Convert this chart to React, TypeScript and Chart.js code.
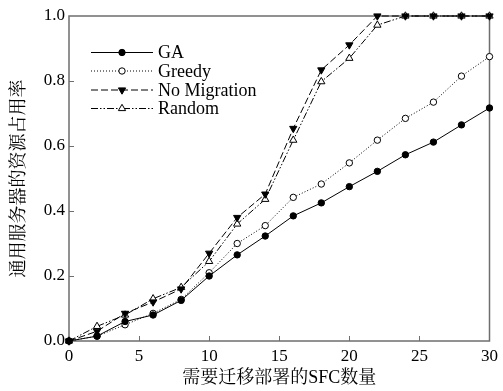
import React, { useEffect, useRef } from "react";
import { Chart, registerables } from "chart.js";

Chart.register(...registerables);

const xValues = [0, 2, 4, 6, 8, 10, 12, 14, 16, 18, 20, 22, 24, 26, 28, 30];
const gaValues = [0, 0.015, 0.06, 0.08, 0.125, 0.2, 0.265, 0.323, 0.385, 0.425, 0.475, 0.522, 0.573, 0.612, 0.665, 0.717];
const greedyValues = [0, 0.015, 0.05, 0.085, 0.128, 0.21, 0.3, 0.355, 0.442, 0.483, 0.548, 0.618, 0.685, 0.735, 0.815, 0.875];
const noMigrationValues = [0, 0.03, 0.085, 0.12, 0.16, 0.27, 0.38, 0.452, 0.654, 0.834, 0.911, 1.0, 1.0, 1.0, 1.0, 1.0];
const randomValues = [0, 0.045, 0.08, 0.13, 0.165, 0.245, 0.36, 0.436, 0.618, 0.798, 0.87, 0.972, 1.0, 1.0, 1.0, 1.0];

const seriesNames = ["GA", "Greedy", "No Migration", "Random"];
const xTicks = [0, 5, 10, 15, 20, 25, 30];
const yTicks = [0, 0.2, 0.4, 0.6, 0.8, 1.0];
const xTitle = "需要迁移部署的SFC数量";
const yTitle = "通用服务器的资源占用率";

const FONT = "'Liberation Serif', 'Times New Roman', 'Noto Serif CJK SC', 'Noto Sans CJK SC', serif";

const styles = [
  { dash: [] as number[], pointStyle: "circle", rotation: 0, fill: "#000", radius: 3.2 },
  { dash: [1, 2], pointStyle: "circle", rotation: 0, fill: "#fff", radius: 3.2 },
  { dash: [7, 3], pointStyle: "triangle", rotation: 180, fill: "#000", radius: 4.2 },
  { dash: [7, 2, 1.5, 2, 1.5, 2], pointStyle: "triangle", rotation: 0, fill: "#fff", radius: 4.2 },
];

const framePlugin = {
  id: "frame",
  beforeDatasetsDraw(chart: any) {
    const { ctx, chartArea } = chart;
    const { left, right, top, bottom } = chartArea;
    const xs = chart.scales.x;
    const ys = chart.scales.y;
    ctx.save();
    ctx.strokeStyle = "#6e6e6e";
    ctx.lineWidth = 1.5;
    ctx.strokeRect(left, top, right - left, bottom - top);
    ctx.lineWidth = 1;
    ctx.beginPath();
    xTicks.forEach((t) => {
      if (t === xTicks[0] || t === xTicks[xTicks.length - 1]) return;
      const px = Math.round(xs.getPixelForValue(t)) + 0.5;
      ctx.moveTo(px, bottom);
      ctx.lineTo(px, bottom - 5);
    });
    yTicks.forEach((t, i) => {
      if (i === 0 || i === yTicks.length - 1) return;
      const py = Math.round(ys.getPixelForValue(t)) + 0.5;
      ctx.moveTo(left, py);
      ctx.lineTo(left + 5, py);
    });
    ctx.stroke();
    ctx.restore();
  },
  afterDatasetsDraw(chart: any) {
    const { ctx } = chart;
    const rowsY = [52.5, 71, 90, 108.5];
    const x0 = 91;
    const x1 = 153;
    const xm = 122;
    ctx.save();
    seriesNames.forEach((name, i) => {
      const s = styles[i];
      const y = rowsY[i];
      ctx.strokeStyle = "#000";
      ctx.lineWidth = 1;
      ctx.setLineDash(s.dash);
      ctx.beginPath();
      ctx.moveTo(x0, y);
      ctx.lineTo(x1, y);
      ctx.stroke();
      ctx.setLineDash([]);
      ctx.fillStyle = s.fill;
      ctx.beginPath();
      if (s.pointStyle === "circle") {
        ctx.arc(xm, y, s.radius, 0, Math.PI * 2);
      } else {
        const r = s.radius;
        const dir = s.rotation === 180 ? -1 : 1;
        ctx.moveTo(xm, y - dir * r);
        ctx.lineTo(xm + r * 0.866, y + dir * r * 0.5);
        ctx.lineTo(xm - r * 0.866, y + dir * r * 0.5);
        ctx.closePath();
      }
      ctx.fill();
      ctx.stroke();
      ctx.fillStyle = "#000";
      ctx.font = `18px ${FONT}`;
      ctx.textBaseline = "middle";
      ctx.textAlign = "left";
      ctx.fillText(name, 158, y + 1);
    });
    ctx.restore();
  },
};

export default function App() {
  const ref = useRef<HTMLCanvasElement | null>(null);

  useEffect(() => {
    document.body.style.margin = "0";
    const canvas = ref.current;
    if (!canvas) return;
    const allValues = [gaValues, greedyValues, noMigrationValues, randomValues];
    const chart = new Chart(canvas, {
      type: "line",
      data: {
        datasets: seriesNames.map((name, i) => ({
          label: name,
          data: xValues.map((x, j) => ({ x, y: allValues[i][j] })),
          borderColor: "#000",
          borderWidth: 1,
          borderDash: styles[i].dash,
          pointStyle: styles[i].pointStyle as any,
          rotation: styles[i].rotation,
          pointRadius: styles[i].radius,
          pointBackgroundColor: styles[i].fill,
          pointBorderColor: "#000",
          pointBorderWidth: 1,
          tension: 0,
          clip: false as any,
          fill: false,
        })),
      },
      options: {
        responsive: false,
        animation: false,
        layout: { padding: { top: 16, right: 9, left: 0, bottom: 0 } },
        plugins: { legend: { display: false }, tooltip: { enabled: false } },
        scales: {
          x: {
            type: "linear",
            min: 0,
            max: 30,
            afterFit: (s: any) => {
              s.height = 50;
            },
            grid: { display: false, drawTicks: false },
            border: { display: false },
            ticks: {
              stepSize: 5,
              padding: 5,
              color: "#000",
              font: { family: FONT, size: 17 },
            },
            title: {
              display: true,
              text: xTitle,
              color: "#000",
              font: { family: FONT, size: 18 },
              padding: { top: 0, bottom: 2 },
            },
          },
          y: {
            type: "linear",
            min: 0,
            max: 1,
            afterFit: (s: any) => {
              s.width = 69;
            },
            grid: { display: false, drawTicks: false },
            border: { display: false },
            ticks: {
              stepSize: 0.2,
              padding: 4,
              color: "#000",
              font: { family: FONT, size: 17 },
              callback: (v: any) => Number(v).toFixed(1),
            },
            title: {
              display: true,
              text: yTitle,
              color: "#000",
              font: { family: FONT, size: 18 },
              padding: { top: 8, bottom: 0 },
            },
          },
        },
      },
      plugins: [framePlugin],
    });
    return () => chart.destroy();
  }, []);

  return (
    <div style={{ position: "absolute", left: 0, top: 0, width: 503, height: 391, background: "#fff" }}>
      <canvas ref={ref} width={503} height={391} />
    </div>
  );
}
